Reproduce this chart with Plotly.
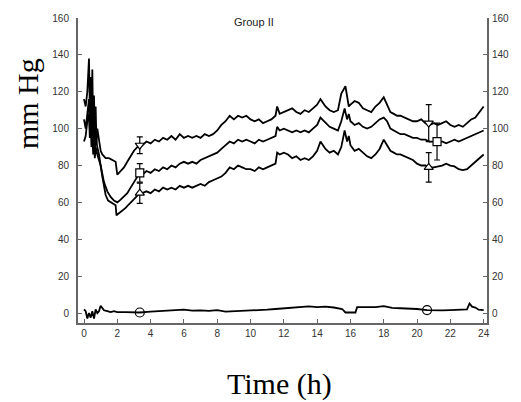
import plotly.graph_objects as go

# ---------------- data ----------------
top_t = [0, 0.1, 0.2, 0.3, 0.35, 0.4, 0.45, 0.5, 0.55, 0.6, 0.65, 0.7, 0.75, 0.8, 0.9, 1.0, 1.1, 1.2, 1.3, 1.5, 1.7, 1.9, 2.0, 2.2, 2.4, 2.6, 2.8, 3.0, 3.2, 3.35,
         3.5, 3.75, 4.0, 4.25, 4.5, 4.75, 5.0, 5.25, 5.5, 5.75, 6.0, 6.25, 6.5, 6.75, 7.0, 7.25, 7.5, 7.75, 8.0, 8.25, 8.5, 8.75, 9.0, 9.25, 9.5, 9.75,
         10.0, 10.25, 10.5, 10.75, 11.0, 11.25, 11.5, 11.6, 11.75, 12.0, 12.25, 12.5, 12.75, 13.0, 13.25, 13.5, 13.75, 14.0, 14.2, 14.5, 14.75, 15.0, 15.25,
         15.45, 15.7, 15.8, 15.9, 16.0, 16.25, 16.5, 16.75, 17.0, 17.25, 17.5, 17.75, 18.0, 18.2, 18.4, 18.6, 18.8, 19.0, 19.25, 19.5, 19.75, 20.0, 20.25,
         20.5, 20.75, 21.0, 21.25, 21.5, 21.75, 22.0, 22.25, 22.5, 22.75, 23.0, 23.25, 23.5, 23.75, 24.0]
top_v = [116, 112, 120, 138, 110, 128, 104, 132, 100, 118, 96, 112, 92, 100, 94, 88, 86, 85, 84, 84, 83, 82, 75, 77, 79, 82, 85, 88, 90, 91,
         91, 93, 92, 94, 93, 95, 94, 96, 94, 97, 95, 96, 95, 96, 95, 97, 96, 97, 99, 102, 104, 107, 105, 107, 106, 107,
         105, 104, 105, 103, 104, 105, 107, 112, 108, 109, 110, 111, 109, 108, 110, 109, 111, 113, 116, 112, 110, 109, 110,
         119, 123, 116, 112, 113, 115, 114, 111, 110, 109, 112, 114, 117, 113, 109, 108, 107, 107, 106, 105, 104, 104, 105,
         103, 102, 103, 102, 103, 104, 102, 101, 102, 101, 103, 105, 106, 109, 112]

mid_t = [0, 0.1, 0.2, 0.3, 0.35, 0.4, 0.45, 0.5, 0.55, 0.6, 0.65, 0.7, 0.8, 0.9, 1.0, 1.1, 1.2, 1.4, 1.6, 1.8, 1.9, 2.0, 2.2, 2.4, 2.6, 2.8, 3.0, 3.2, 3.35,
         3.5, 3.75, 4.0, 4.25, 4.5, 4.75, 5.0, 5.25, 5.5, 5.75, 6.0, 6.25, 6.5, 6.75, 7.0, 7.25, 7.5, 7.75, 8.0, 8.25, 8.5, 8.75, 9.0, 9.25, 9.5, 9.75,
         10.0, 10.25, 10.5, 10.75, 11.0, 11.25, 11.5, 11.6, 11.75, 12.0, 12.25, 12.5, 12.75, 13.0, 13.25, 13.5, 13.75, 14.0, 14.2, 14.5, 14.75, 15.0, 15.25,
         15.45, 15.65, 15.8, 15.9, 16.0, 16.25, 16.5, 16.75, 17.0, 17.25, 17.5, 17.75, 18.0, 18.2, 18.4, 18.6, 18.8, 19.0, 19.25, 19.5, 19.75, 20.0, 20.25,
         20.5, 20.75, 21.0, 21.25, 21.5, 21.75, 22.0, 22.25, 22.5, 22.75, 23.0, 23.25, 23.5, 23.75, 24.0]
mid_v = [105, 100, 108, 116, 100, 112, 95, 110, 92, 104, 88, 96, 90, 86, 80, 75, 71, 66, 63, 61, 60.5, 60, 61.5, 63, 65, 68, 71, 74, 76,
         75, 77, 76, 78, 77, 79, 78, 80, 79, 81, 82, 81, 82, 81, 83, 84, 85, 86, 87, 89, 91, 93, 92, 94, 93, 94,
         93, 92, 94, 93, 94, 95, 96, 101, 99, 100, 99, 98, 99, 98, 99, 98, 100, 102, 106, 103, 101, 100, 99,
         104, 111, 105, 108, 104, 102, 103, 101, 100, 101, 103, 105, 106, 104, 100, 99, 98, 97, 97, 96, 95, 95, 94, 94,
         93, 93, 92, 93, 92, 93, 94, 93, 94, 95, 96, 97, 98, 99, 100]

bot_t = [0, 0.1, 0.2, 0.3, 0.35, 0.4, 0.45, 0.5, 0.55, 0.6, 0.65, 0.7, 0.8, 0.9, 1.0, 1.1, 1.2, 1.3, 1.45, 1.6, 1.8, 1.9, 1.95, 2.1, 2.3, 2.5, 2.7, 2.9, 3.1, 3.35,
         3.5, 3.75, 4.0, 4.25, 4.5, 4.75, 5.0, 5.25, 5.5, 5.75, 6.0, 6.25, 6.5, 6.75, 7.0, 7.25, 7.5, 7.75, 8.0, 8.25, 8.5, 8.75, 9.0, 9.25, 9.5, 9.75,
         10.0, 10.25, 10.5, 10.75, 11.0, 11.25, 11.5, 11.6, 11.75, 12.0, 12.25, 12.5, 12.75, 13.0, 13.25, 13.5, 13.75, 14.0, 14.2, 14.5, 14.75, 15.0, 15.25,
         15.45, 15.65, 15.8, 15.9, 16.0, 16.25, 16.5, 16.75, 17.0, 17.25, 17.5, 17.75, 18.0, 18.2, 18.4, 18.6, 18.8, 19.0, 19.25, 19.5, 19.75, 20.0, 20.25,
         20.5, 20.75, 21.0, 21.25, 21.5, 21.75, 22.0, 22.25, 22.5, 22.75, 23.0, 23.25, 23.5, 23.75, 24.0]
bot_v = [93, 96, 104, 108, 95, 102, 90, 98, 86, 94, 84, 90, 86, 83, 80, 74, 68, 64, 61, 60, 59, 58.5, 53, 54, 55.5, 57, 59, 61, 63, 65,
         65, 66, 65, 67, 66, 68, 67, 68, 67, 69, 68, 69, 68, 69, 70, 69, 71, 72, 73, 74, 76, 79, 78, 80, 79, 78,
         78, 77, 79, 78, 79, 80, 81, 87, 86, 87, 86, 84, 85, 83, 84, 83, 85, 88, 93, 89, 87, 88, 86,
         90, 99, 93, 96, 91, 88, 89, 87, 85, 84, 86, 89, 94, 91, 88, 87, 86, 86, 85, 84, 83, 81, 80, 80,
         79, 79, 79.5, 80, 81, 80, 79.5, 78, 77.5, 78, 80, 82, 84, 86, 88]

zero_t = [0, 0.1, 0.2, 0.3, 0.4, 0.5, 0.6, 0.7, 0.8, 0.9, 1.0, 1.2, 1.4, 1.6, 1.8, 2.0, 2.5, 3.0, 3.35, 4, 4.5, 5, 5.5, 6, 6.5, 7, 7.5, 8, 8.5, 9,
          9.5, 10, 10.5, 11, 11.5, 12, 12.5, 13, 13.5, 14, 14.5, 15, 15.5, 15.7, 16.3, 16.4, 17, 17.5, 18, 18.5, 19, 19.5, 20, 20.6, 21, 21.5, 22,
          22.5, 23, 23.15, 23.3, 23.5, 23.7, 24]
zero_v = [2, 1, -3, 0, -2.5, 1, -3, 2, 0, 1, 4, 1.5, 1, 0.5, 1, 0.5, 0.5, 0.5, 0.3, 0.8, 1, 1.2, 1.3, 1.8, 1.3, 1.5, 1.2, 1.6, 0.8, 1.0,
          0.8, 1.0, 1.4, 1.8, 2.2, 2.6, 3.0, 3.2, 3.6, 3.2, 3.5, 3.0, 2.2, 0.3, 0.3, 3.2, 3.4, 3.2, 3.8, 2.8, 2.6, 2.5, 2.2, 1.6, 1.4, 1.5, 1.6,
          1.8, 2.0, 5.2, 3.5, 3.0, 1.8, 1.6]

# markers with SD bars
top_mk_t = [3.35, 20.7]
top_mk_v = [91, 103]
top_mk_sd = [4.5, 10]
mid_mk_t = [3.35, 21.2]
mid_mk_v = [76, 93]
mid_mk_sd = [5, 10]
bot_mk_t = [3.35, 20.7]
bot_mk_v = [65, 79]
bot_mk_sd = [5.5, 8]
zero_mk_t = [3.35, 20.6]
zero_mk_v = [0.3, 1.6]

x_ticks = list(range(0, 25, 2))
y_ticks = list(range(0, 161, 20))

# ---------------- figure ----------------
fig = go.Figure()
line_style = dict(color="black", width=1.8)

for tt, vv in [(top_t, top_v), (mid_t, mid_v), (bot_t, bot_v)]:
    fig.add_trace(go.Scatter(x=tt, y=vv, mode="lines", line=line_style, showlegend=False, hoverinfo="skip"))
fig.add_trace(go.Scatter(x=zero_t, y=zero_v, mode="lines", line=line_style, showlegend=False,
                         hoverinfo="skip", yaxis="y2"))

for mt, mv, sd, sym in [(top_mk_t, top_mk_v, top_mk_sd, "triangle-down"),
                        (mid_mk_t, mid_mk_v, mid_mk_sd, "square"),
                        (bot_mk_t, bot_mk_v, bot_mk_sd, "triangle-up")]:
    fig.add_trace(go.Scatter(x=mt, y=mv, mode="markers",
                             marker=dict(symbol=sym, size=8, color="white", line=dict(color="black", width=1.2)),
                             error_y=dict(type="data", array=sd, visible=True, color="black", thickness=1.2, width=3),
                             showlegend=False, hoverinfo="skip"))
fig.add_trace(go.Scatter(x=zero_mk_t, y=zero_mk_v, mode="markers",
                         marker=dict(symbol="circle", size=9, color="white", line=dict(color="black", width=1.2)),
                         showlegend=False, hoverinfo="skip"))

tick_font = dict(family="Liberation Sans, Arial, sans-serif", size=10, color="#333")
axis_common = dict(showgrid=False, zeroline=False, showline=True, linecolor="#666", linewidth=2,
                   ticks="inside", ticklen=4, tickcolor="#666", tickwidth=1.2, tickfont=tick_font)

fig.update_layout(
    width=521, height=402,
    margin=dict(l=78, r=28, t=15, b=79),
    paper_bgcolor="white", plot_bgcolor="white",
    hovermode=False,
    xaxis=dict(range=[-0.36, 24.2], tickvals=x_ticks, **axis_common),
    yaxis=dict(range=[-5.4, 160], tickvals=y_ticks, ticklabelstandoff=5, **axis_common),
    yaxis2=dict(range=[-5.4, 160], tickvals=y_ticks, overlaying="y", side="right",
                ticklabelstandoff=1, **axis_common),
    annotations=[
        dict(text="Group II", x=0.431, y=0.987, xref="paper", yref="paper", showarrow=False,
             xanchor="center", yanchor="middle",
             font=dict(family="Liberation Sans, Arial, sans-serif", size=11, color="#222")),
        dict(text="mm Hg", x=-0.123, y=0.72, xref="paper", yref="paper", showarrow=False, textangle=-90,
             xanchor="center", yanchor="middle",
             font=dict(family="Liberation Serif, Times New Roman, serif", size=30, color="black")),
        dict(text="Time (h)", x=0.4916, y=-0.2, xref="paper", yref="paper", showarrow=False,
             xanchor="center", yanchor="middle",
             font=dict(family="Liberation Serif, Times New Roman, serif", size=30, color="black")),
    ],
)

fig.write_html("out.html", config={"displayModeBar": False},
               post_script="document.body.style.margin='0';document.body.style.overflow='hidden';")
